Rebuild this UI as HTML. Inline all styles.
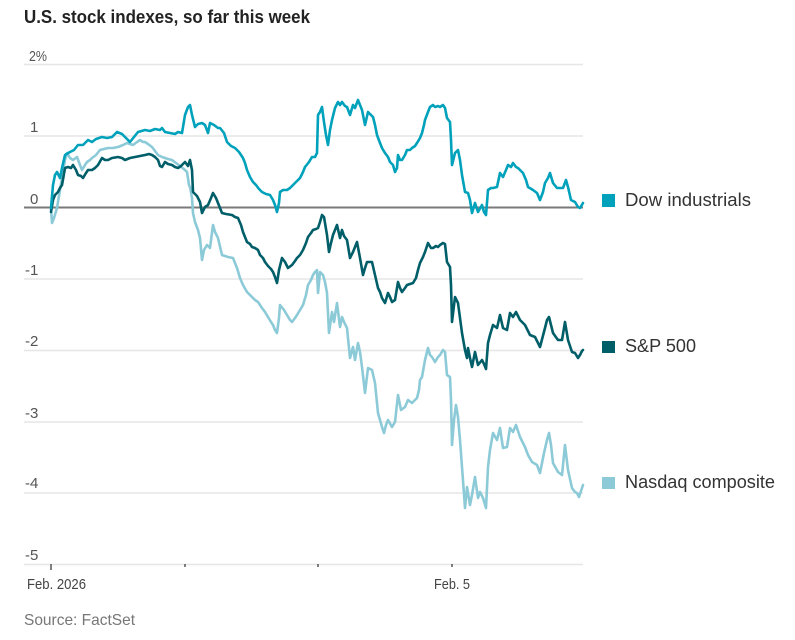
<!DOCTYPE html>
<html><head><meta charset="utf-8"><style>
html,body{margin:0;padding:0;background:#fff;}
svg{display:block;}
text{font-family:"Liberation Sans",sans-serif;}
</style></head><body>
<svg width="795" height="640" viewBox="0 0 795 640" xmlns="http://www.w3.org/2000/svg">
<text x="24" y="23" font-size="18" font-weight="bold" fill="#222" textLength="286" lengthAdjust="spacingAndGlyphs">U.S. stock indexes, so far this week</text>
<g stroke="#e6e6e6" stroke-width="1.5">
<line x1="24" x2="583" y1="64.5" y2="64.5"/>
<line x1="24" x2="583" y1="136" y2="136"/>
<line x1="24" x2="583" y1="279" y2="279"/>
<line x1="24" x2="583" y1="350.5" y2="350.5"/>
<line x1="24" x2="583" y1="422" y2="422"/>
<line x1="24" x2="583" y1="493" y2="493"/>
<line x1="24" x2="583" y1="564.5" y2="564.5"/>
</g>
<g font-size="15" fill="#555">
<text x="29" y="61" textLength="18" lengthAdjust="spacingAndGlyphs">2%</text>
<text x="30" y="132">1</text>
<text x="30" y="204">0</text>
<text x="25" y="275">-1</text>
<text x="25" y="346">-2</text>
<text x="25" y="418">-3</text>
<text x="25" y="488">-4</text>
<text x="25" y="560">-5</text>
</g>
<g stroke="#555" stroke-width="1.5">
<line x1="51" x2="51" y1="564" y2="570"/>
<line x1="185" x2="185" y1="564" y2="567"/>
<line x1="318" x2="318" y1="564" y2="567"/>
<line x1="452" x2="452" y1="564" y2="567"/>
</g>
<text x="27" y="589" font-size="15" fill="#444" textLength="59" lengthAdjust="spacingAndGlyphs">Feb. 2026</text>
<text x="434" y="589" font-size="15" fill="#444" textLength="36" lengthAdjust="spacingAndGlyphs">Feb. 5</text>
<text x="24" y="625" font-size="16" fill="#777" textLength="111" lengthAdjust="spacingAndGlyphs">Source: FactSet</text>
<line x1="24" x2="583" y1="207.5" y2="207.5" stroke="#7a7a7a" stroke-width="2"/>
<g fill="none" stroke-width="2.6" stroke-linejoin="round" stroke-linecap="round">
<polyline stroke="#8ccad8" points="51,208 52,223 54,218 57,208 60,190 62,178 65,160 67,153 70,158 73,160 77,157 80,165 82,170 85,165 87,162 90,160 92,158 96,155 100,150 104,149 108,148 113,148 118,147 123,145 127,143 130,144 133,145 137,142 140,140 143,142 145,142 148,144 152,147 155,151 158,155 162,157 165,158 168,159 172,160 176,163 180,166 185,170 187,172 189,185 190,187 192,198 193,213 195,222 198,230 200,238 202,260 204,250 207,245 210,248 213,225 215,232 218,238 222,255 225,256 228,257 233,258 237,268 240,278 243,285 247,292 250,295 252,297 255,300 258,302 262,308 265,312 268,317 271,322 273,325 275,330 277,333 279,318 280,305 284,310 287,315 290,320 292,322 295,318 297,315 300,310 303,305 306,295 308,285 311,280 313,275 315,272 317,270 318,293 320,272 323,275 325,282 327,293 329,333 332,312 334,322 337,303 340,327 342,317 344,322 347,328 350,358 353,347 355,360 358,343 360,352 362,367 365,393 368,368 372,370 375,383 378,413 380,420 382,427 384,433 386,425 388,420 392,427 395,422 398,395 401,410 405,407 408,400 412,403 417,398 419,390 420,380 422,377 425,360 428,348 430,355 432,357 435,362 438,357 440,355 443,350 445,352 447,375 450,377 451,400 452,445 454,420 456,405 458,417 460,440 462,467 465,508 467,487 470,505 472,495 475,477 478,498 480,492 483,498 486,508 488,467 490,450 493,433 497,440 500,428 503,448 507,447 510,428 513,432 516,425 520,437 525,447 528,455 532,462 537,465 540,473 544,453 547,440 549,433 551,445 553,463 558,472 562,475 565,445 568,470 572,488 575,492 577,493 579,497 582,488 583,485"/>
<polyline stroke="#005e69" points="51,212 53,200 55,195 58,192 60,188 62,185 65,168 68,167 71,168 73,165 76,170 78,175 81,176 83,178 86,173 88,170 92,170 95,168 98,165 102,158 105,160 108,160 112,158 118,157 122,158 125,160 130,158 135,157 140,156 145,155 149,154 152,155 155,157 158,160 160,166 162,167 165,162 168,164 172,165 175,167 178,168 181,166 185,162 188,166 190,160 192,170 193,192 197,196 200,202 202,213 205,207 208,205 211,198 213,193 216,198 218,203 222,213 226,214 232,215 235,217 238,218 241,225 243,232 245,237 247,242 250,244 252,247 255,248 258,250 260,255 263,258 265,262 268,266 271,269 273,272 275,277 277,283 279,270 282,258 285,262 288,268 292,265 295,261 297,258 300,255 303,250 306,243 308,237 311,233 313,230 316,229 318,228 320,222 322,215 324,217 327,235 329,252 331,243 333,235 335,230 337,225 340,238 342,230 344,236 347,240 350,258 353,252 355,247 357,242 360,258 363,275 365,268 367,262 370,262 372,262 375,275 378,288 380,292 382,298 385,303 388,293 390,297 392,302 395,300 398,282 400,288 402,292 405,288 407,285 410,284 413,283 416,278 418,270 420,263 423,257 425,252 428,243 431,248 433,248 436,246 438,247 440,245 443,243 445,244 447,262 450,267 451,285 452,322 455,297 458,303 460,318 462,333 465,350 467,358 468,348 470,358 472,367 475,352 478,365 482,360 484,364 486,369 488,343 490,335 493,325 497,328 500,315 503,328 507,330 510,313 513,317 516,312 520,320 525,325 530,335 535,337 540,347 545,328 547,320 549,317 551,325 553,333 558,340 562,340 565,322 568,340 572,352 575,353 578,358 580,355 582,351 583,350"/>
<polyline stroke="#00a1bb" points="51,208 53,185 55,175 57,172 60,178 62,168 65,155 70,152 74,150 78,145 83,145 88,140 92,142 96,139 102,137 107,138 112,137 117,132 122,134 126,138 130,142 134,137 138,132 145,130 150,131 155,129 160,130 162,128 165,132 170,133 175,134 178,132 182,133 185,115 188,107 190,105 192,115 195,127 198,124 202,123 205,125 208,133 210,123 214,125 218,128 220,128 224,133 227,142 231,146 235,148 239,152 243,158 245,163 247,170 250,177 253,182 256,185 259,189 262,192 266,194 270,195 273,200 275,205 277,212 279,203 280,192 283,190 287,190 290,188 293,185 297,181 300,178 303,172 305,167 309,162 312,157 315,157 317,153 318,115 320,112 322,107 324,122 326,135 328,145 330,130 332,120 335,108 338,102 340,105 342,102 345,106 347,107 350,115 353,105 355,108 358,100 362,110 365,125 368,112 371,115 373,117 375,125 377,135 380,143 382,148 385,153 388,157 390,162 393,165 395,172 397,168 398,155 400,160 402,160 405,155 407,150 410,150 412,148 415,146 417,143 420,138 422,133 424,125 425,120 428,112 430,107 433,105 435,107 438,106 440,107 443,105 445,108 447,118 450,122 451,140 452,165 455,153 458,150 460,160 462,175 465,192 468,193 470,200 472,213 475,203 478,212 482,205 484,212 486,215 488,190 491,188 493,188 497,187 500,173 503,177 506,170 508,165 511,167 513,163 516,167 518,168 523,173 526,180 528,187 533,190 537,193 540,200 543,192 545,183 548,178 550,173 553,183 557,188 563,188 566,180 568,187 571,200 575,202 578,207 580,208 583,203"/>
</g>
<rect x="602" y="194" width="13" height="13" fill="#00a1bb"/>
<rect x="602" y="341" width="13" height="12" fill="#005e69"/>
<rect x="602" y="477" width="13" height="12" fill="#8ccad8"/>
<g font-size="18" fill="#333">
<text x="625" y="206" textLength="126" lengthAdjust="spacingAndGlyphs">Dow industrials</text>
<text x="625" y="352" textLength="71" lengthAdjust="spacingAndGlyphs">S&amp;P 500</text>
<text x="625" y="488" textLength="150" lengthAdjust="spacingAndGlyphs">Nasdaq composite</text>
</g>
</svg>
</body></html>
